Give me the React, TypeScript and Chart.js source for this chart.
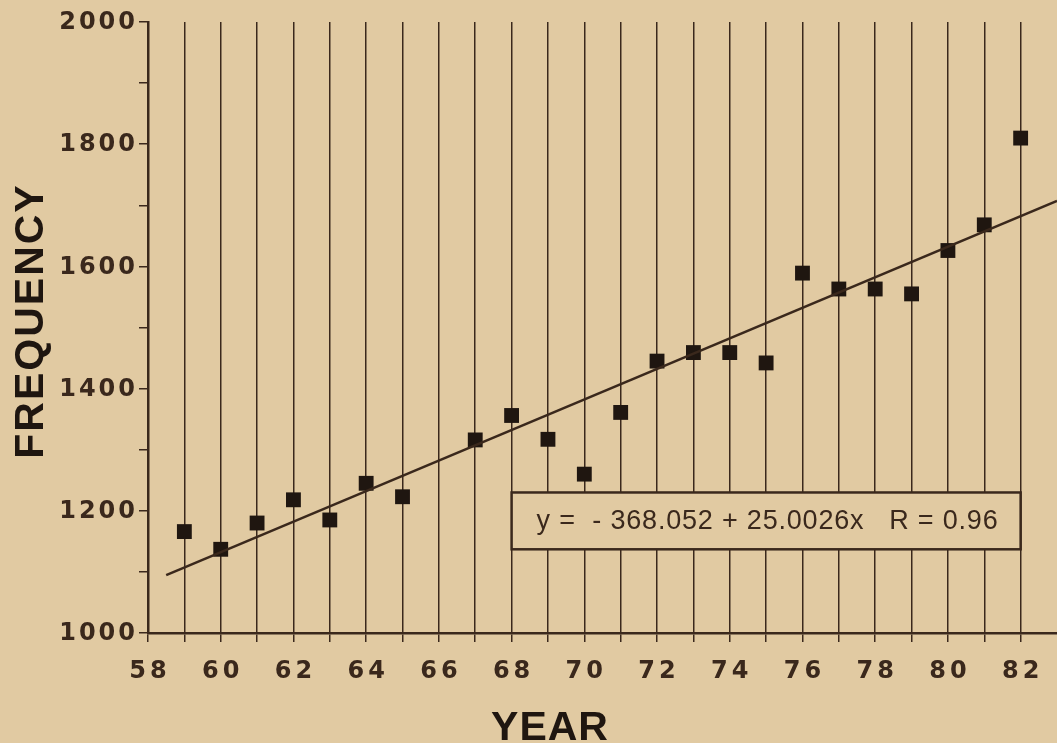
import React, { useEffect, useRef } from "react";
import { Chart, registerables } from "chart.js";

Chart.register(...registerables);

// ---- data ----
const YEARS = [59, 60, 61, 62, 63, 64, 65, 67, 68, 69, 70, 71, 72, 73, 74, 75, 76, 77, 78, 79, 80, 81, 82];
const FREQUENCY = [1166, 1137, 1180, 1218, 1185, 1245, 1223, 1316, 1356, 1317, 1260, 1361, 1445, 1459, 1459, 1442, 1589, 1563, 1563, 1555, 1626, 1668, 1810];
const X_TICK_LABELS = ["58", "60", "62", "64", "66", "68", "70", "72", "74", "76", "78", "80", "82"];
const Y_TICK_LABELS = ["1000", "1200", "1400", "1600", "1800", "2000"];
const FIT_INTERCEPT = -368.052;
const FIT_SLOPE = 25.0026;
const FIT_X_RANGE = [58.5, 83];
const EQUATION_TEXT = "y =  - 368.052 + 25.0026x   R = 0.96";
const X_TITLE = "YEAR";
const Y_TITLE = "FREQUENCY";

// ---- styling ----
const W = 1057;
const H = 743;
const BG = "#e1caa2";
const INK = "#3a281c";
const MARK = "#1f1610";
const TICK_FONT = 'bold 24px "DejaVu Sans"';
const TITLE_FONT = 'bold 41px "Liberation Sans", Arial, sans-serif';
const EQ_FONT = '27px "Liberation Sans", Arial, sans-serif';

const decorPlugin = {
  id: "decor",
  beforeDraw(chart: any) {
    const ctx = chart.ctx;
    ctx.save();
    ctx.fillStyle = BG;
    ctx.fillRect(0, 0, chart.width, chart.height);
    ctx.restore();
  },
  afterDraw(chart: any) {
    const ctx = chart.ctx as CanvasRenderingContext2D;
    const xs = chart.scales.x;
    const ys = chart.scales.y;

    // tick labels
    ctx.save();
    ctx.fillStyle = INK;
    ctx.font = TICK_FONT;
    (ctx as any).letterSpacing = "3px";
    ctx.textBaseline = "middle";
    ctx.textAlign = "right";
    Y_TICK_LABELS.forEach((lab) => {
      const py = ys.getPixelForValue(Number(lab));
      ctx.fillText(lab, 135 + 3, py + 1);
    });
    (ctx as any).letterSpacing = "4px";
    ctx.textAlign = "center";
    X_TICK_LABELS.forEach((lab) => {
      const px = xs.getPixelForValue(Number(lab));
      ctx.fillText(lab, px + 2, 672);
    });
    ctx.restore();

    // axis titles
    ctx.save();
    ctx.fillStyle = MARK;
    ctx.font = TITLE_FONT;
    (ctx as any).letterSpacing = "1px";
    ctx.textAlign = "center";
    ctx.textBaseline = "alphabetic";
    ctx.fillText(X_TITLE, 550, 740);
    (ctx as any).letterSpacing = "2px";
    ctx.translate(43, 321);
    ctx.rotate(-Math.PI / 2);
    ctx.fillText(Y_TITLE, 0, 0);
    ctx.restore();

    // equation box
    const bx1 = xs.getPixelForValue(68);
    const bx2 = xs.getPixelForValue(82);
    const by1 = ys.getPixelForValue(1230);
    const by2 = ys.getPixelForValue(1137);
    ctx.save();
    ctx.fillStyle = BG;
    ctx.fillRect(bx1, by1, bx2 - bx1, by2 - by1);
    ctx.strokeStyle = INK;
    ctx.lineWidth = 2.5;
    ctx.strokeRect(bx1, by1, bx2 - bx1, by2 - by1);
    ctx.fillStyle = INK;
    ctx.font = EQ_FONT;
    (ctx as any).letterSpacing = "0.8px";
    ctx.textAlign = "left";
    ctx.textBaseline = "middle";
    ctx.fillText(EQUATION_TEXT, bx1 + 25, (by1 + by2) / 2 + 1);
    ctx.restore();
  },
};

export default function App() {
  const ref = useRef<HTMLCanvasElement | null>(null);

  useEffect(() => {
    if (!ref.current) return;
    const points = YEARS.map((x, i) => ({ x, y: FREQUENCY[i] }));
    const fit = FIT_X_RANGE.map((x) => ({ x, y: FIT_INTERCEPT + FIT_SLOPE * x }));

    const chart = new Chart(ref.current, {
      type: "scatter",
      data: {
        datasets: [
          {
            type: "line",
            label: "fit",
            data: fit,
            borderColor: INK,
            borderWidth: 2.5,
            pointRadius: 0,
            fill: false,
            tension: 0,
          } as any,
          {
            label: "frequency",
            data: points,
            pointStyle: "rect",
            pointRadius: 10.5,
            pointBackgroundColor: MARK,
            pointBorderWidth: 0,
            borderColor: MARK,
          },
        ],
      },
      options: {
        animation: false,
        responsive: false,
        maintainAspectRatio: false,
        devicePixelRatio: 1,
        layout: { autoPadding: false, padding: { top: 22, left: 0, right: 0, bottom: 0 } },
        plugins: {
          legend: { display: false },
          tooltip: { enabled: false },
          title: { display: false },
        },
        events: [],
        scales: {
          x: {
            type: "linear",
            min: 58,
            max: 83,
            ticks: { stepSize: 1, display: false },
            grid: {
              color: (c: any) => (c.tick && c.tick.value > 82.5 ? "rgba(0,0,0,0)" : INK),
              lineWidth: 1.5,
              drawTicks: true,
              tickLength: 9,
              drawOnChartArea: true,
            },
            border: { display: true, color: INK, width: 2.5 },
            afterFit: (s: any) => {
              s.height = 110;
              s.paddingLeft = 0;
              s.paddingRight = 0;
            },
          },
          y: {
            type: "linear",
            min: 1000,
            max: 2000,
            ticks: { stepSize: 100, display: false },
            grid: {
              color: INK,
              lineWidth: 1.5,
              drawTicks: true,
              tickLength: 9,
              drawOnChartArea: false,
            },
            border: { display: true, color: INK, width: 2.5 },
            afterFit: (s: any) => {
              s.width = 148;
              s.paddingTop = 0;
              s.paddingBottom = 0;
            },
          },
        },
      },
      plugins: [decorPlugin],
    });
    return () => chart.destroy();
  }, []);

  return (
    <div style={{ position: "fixed", left: 0, top: 0, width: W, height: H, background: BG }}>
      <canvas ref={ref} width={W} height={H} style={{ display: "block", width: W, height: H }} />
    </div>
  );
}
